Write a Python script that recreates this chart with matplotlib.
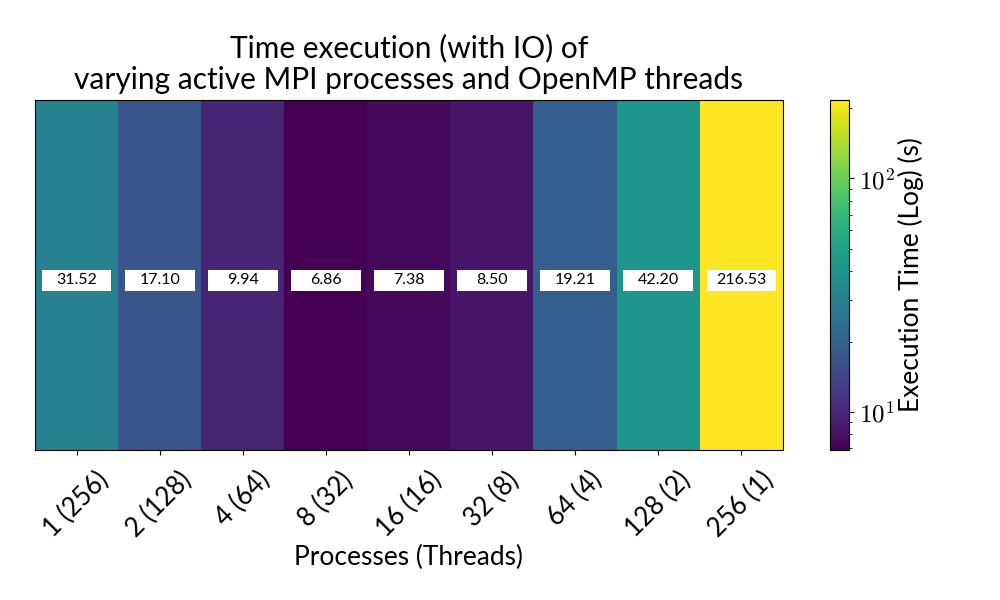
import numpy as np
import matplotlib
matplotlib.use("Agg")
import matplotlib.pyplot as plt
from matplotlib.colors import LogNorm
from matplotlib.patches import Rectangle
from matplotlib.ticker import FuncFormatter, LogLocator

labels = ["1 (256)", "2 (128)", "4 (64)", "8 (32)", "16 (16)", "32 (8)", "64 (4)", "128 (2)", "256 (1)"]
times = [31.52, 17.10, 9.94, 6.86, 7.38, 8.50, 19.21, 42.20, 216.53]

plt.rcParams['font.family'] = ['Lato', 'DejaVu Sans']
plt.rcParams['mathtext.fontset'] = 'cm'
plt.rcParams['mathtext.default'] = 'rm'

fig = plt.figure(figsize=(10, 6), dpi=100)
ax = fig.add_axes([0.035, 0.25, 0.748, 0.5833])
cax = fig.add_axes([0.830, 0.25, 0.019, 0.5833])

data = np.array([times])
norm = LogNorm(vmin=min(times), vmax=max(times))
im = ax.imshow(data, cmap='viridis', norm=norm, aspect='auto')

for i, v in enumerate(times):
    ax.add_patch(Rectangle((i - 0.42, -0.015), 0.84, 0.06, facecolor='white', edgecolor='none', zorder=3))
    ax.text(i, 0.015, f"{v:.2f}", ha='center', va='center', fontsize=11.5, color='black', zorder=4)

ax.set_xticks(range(len(labels)))
ax.set_xticklabels(labels, rotation=45, fontsize=18.5, ha='center')
ax.tick_params(axis='x', pad=9)
ax.set_yticks([])
ax.set_xlabel("Processes (Threads)", fontsize=19, labelpad=2)
ax.set_title("Time execution (with IO) of\nvarying active MPI processes and OpenMP threads",
             fontsize=21.5, linespacing=1.15, pad=8)

cb = fig.colorbar(im, cax=cax)
cb.set_label("Execution Time (Log) (s)", fontsize=19)
cb.ax.yaxis.set_label_coords(4.25, 0.5)
cb.ax.yaxis.label.set_va('center')
cb.ax.yaxis.set_major_locator(LogLocator(base=10))
cb.ax.yaxis.set_major_formatter(FuncFormatter(lambda v, p: r'$10^{%d}$' % round(np.log10(v))))
cb.ax.tick_params(labelsize=18)

fig.savefig("out.png", dpi=100)
